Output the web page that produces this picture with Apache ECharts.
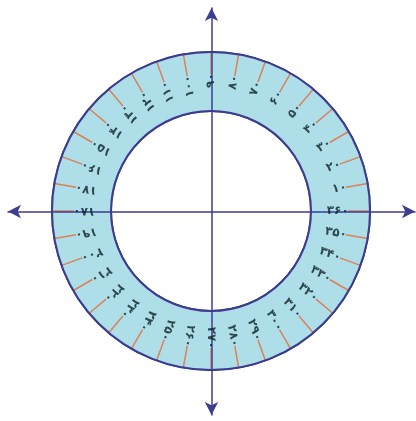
<!DOCTYPE html>
<html>
<head>
<meta charset="utf-8">
<script src="https://cdn.jsdelivr.net/npm/echarts@6/dist/echarts.min.js"></script>
<style>
html,body{margin:0;padding:0;background:#fff;}
#chart{width:416px;height:421px;}
</style>
</head>
<body>
<div id="chart"></div>
<script>
// Angles in degrees (counter-clockwise from the positive x axis)
var angles = [10,20,30,40,50,60,70,80,90,100,110,120,130,140,150,160,170,180,
              190,200,210,220,230,240,250,260,270,280,290,300,310,320,330,340,350,360];
// Persian labels for each angle
var angleLabels = ['۱۰','۲۰','۳۰','۴۰','۵۰','۶۰','۷۰','۸۰','۹۰','۱۰۰','۱۱۰','۱۲۰','۱۳۰','۱۴۰','۱۵۰','۱۶۰','۱۷۰','۱۸۰',
                   '۱۹۰','۲۰۰','۲۱۰','۲۲۰','۲۳۰','۲۴۰','۲۵۰','۲۶۰','۲۷۰','۲۸۰','۲۹۰','۳۰۰','۳۱۰','۳۲۰','۳۳۰','۳۴۰','۳۵۰','۳۶۰'];

var labelRadius = 0.64;
var labelData = angles.map(function (a, i) {
  return {
    value: [labelRadius, a],
    name: angleLabels[i],
    label: { rotate: a }
  };
});

var chart = echarts.init(document.getElementById('chart'), null, { renderer: 'canvas' });
chart.setOption({
  animation: false,
  grid: { left: 8, right: 1, top: 8, bottom: 6 },
  xAxis: {
    type: 'value', min: -1, max: 1, z: 10,
    axisLine: { show: true, onZero: true, symbol: ['arrow', 'arrow'], symbolSize: [10, 13],
      lineStyle: { color: '#3d3d92', width: 1.5 } },
    axisTick: { show: false }, axisLabel: { show: false }, splitLine: { show: false }
  },
  yAxis: {
    type: 'value', min: -1, max: 1, z: 10,
    axisLine: { show: true, onZero: true, symbol: ['arrow', 'arrow'], symbolSize: [10, 13],
      lineStyle: { color: '#3d3d92', width: 1.5 } },
    axisTick: { show: false }, axisLabel: { show: false }, splitLine: { show: false }
  },
  polar: { center: [211, 211], radius: [100, 159] },
  angleAxis: {
    type: 'value', min: 0, max: 360, interval: 10, startAngle: 0, clockwise: false,
    axisLine: { show: true, lineStyle: { color: '#3b3b8f', width: 2 } },
    axisTick: { show: true, inside: true, length: 22, lineStyle: { color: '#d8825a', width: 1.5 } },
    axisLabel: { show: false },
    splitLine: { show: false }
  },
  radiusAxis: {
    type: 'value', min: 0, max: 1, interval: 1,
    axisLine: { show: false }, axisTick: { show: false }, axisLabel: { show: false },
    splitLine: { show: true, lineStyle: { color: '#3b3b8f', width: 2 } },
    splitArea: { show: true, areaStyle: { color: ['#aedfe9'] } }
  },
  series: [{
    type: 'scatter',
    coordinateSystem: 'polar',
    symbolSize: 0,
    z: 20,
    data: labelData,
    label: {
      show: true,
      position: 'inside',
      align: 'right',
      verticalAlign: 'middle',
      formatter: function (p) { return p.name; },
      color: '#0b2226',
      fontFamily: 'DejaVu Sans',
      fontWeight: 'bold',
      fontSize: 12
    }
  }]
});
</script>
</body>
</html>
